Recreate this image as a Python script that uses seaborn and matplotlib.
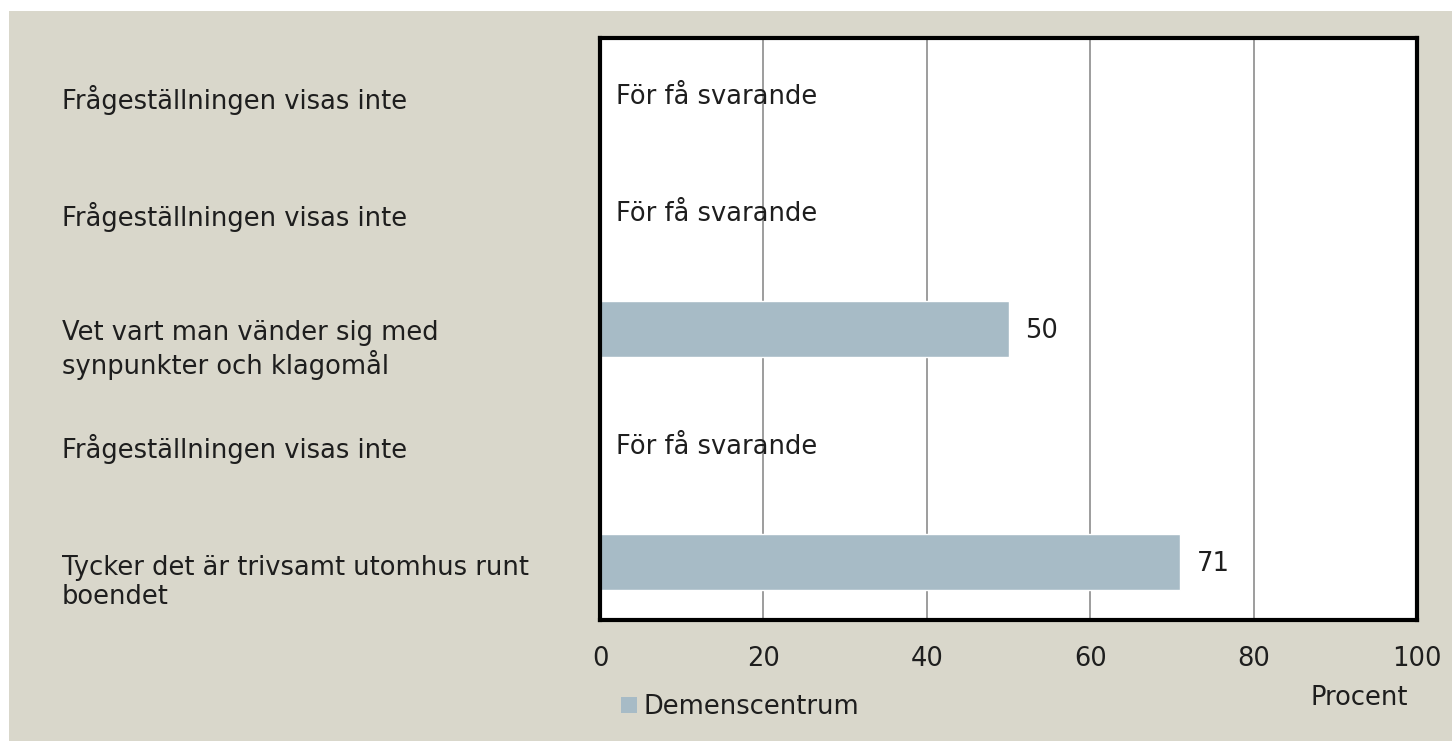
import numpy as np
import pandas as pd
import matplotlib
matplotlib.use("Agg")
import matplotlib.pyplot as plt
import matplotlib.transforms as mtransforms
from matplotlib.patches import Patch, Rectangle
import seaborn as sns

questions = [
    "Frågeställningen visas inte",
    "Frågeställningen visas inte",
    "Vet vart man vänder sig med\nsynpunkter och klagomål",
    "Frågeställningen visas inte",
    "Tycker det är trivsamt utomhus runt\nboendet",
]
values = [np.nan, np.nan, 50, np.nan, 71]
series_name = "Demenscentrum"
missing_text = "För få svarande"
xticks = [0, 20, 40, 60, 80, 100]

bg = "#d9d7cb"
bar_color = "#a7bbc6"
text_color = "#1e1e1e"
fs = 18.5

sns.set_style("white")
plt.rcParams["font.family"] = ["DejaVu Sans"]

keys = [f"q{i}" for i in range(len(questions))]
df = pd.DataFrame({"key": keys, "value": values})

fig = plt.figure(figsize=(14.52, 7.41), dpi=100, facecolor="white")
fig.patches.append(Rectangle((9 / 1452, 0), 1, 1 - 11 / 741, transform=fig.transFigure,
                             facecolor=bg, edgecolor="none", zorder=-10))
ax = fig.add_axes([600 / 1452, 1 - 620 / 741, 817 / 1452, 582 / 741])
ax.set_facecolor("white")

sns.barplot(data=df.dropna(), x="value", y="key", order=keys, orient="h",
            color=bar_color, saturation=1, width=0.48, ax=ax, zorder=3)

ax.set_xlim(0, 100)
ax.set_ylim(len(keys) - 0.5, -0.5)
ax.set_xticks(xticks)
ax.set_xticklabels([str(t) for t in xticks], fontsize=fs, color=text_color)
ax.tick_params(axis="x", length=0, pad=19)
ax.set_yticks([])
ax.set_ylabel("")
ax.set_xlabel("Procent", fontsize=fs, color=text_color, ha="right", va="center")
ax.xaxis.set_label_coords((1408 - 600) / 817, (620 - 698) / 582)

ax.grid(False)
for t in xticks[1:-1]:
    ax.axvline(t, color="#8c8c8c", lw=1.2, zorder=1)
for s in ax.spines.values():
    s.set_visible(True)
    s.set_color("black")
    s.set_linewidth(3)
    s.set_zorder(5)

# category labels, left aligned in the figure margin
trans = mtransforms.blended_transform_factory(fig.transFigure, ax.transData)
for i, (q, v) in enumerate(zip(questions, values)):
    nlines = q.count("\n") + 1
    y = i + 0.035 + 0.145 * (nlines - 1)
    ax.text(62 / 1452, y, q, transform=trans, ha="left", va="center",
            fontsize=fs, color=text_color, linespacing=1.17, clip_on=False)
    if np.isnan(v):
        ax.text(2, i + 0.01, missing_text, ha="left", va="center", fontsize=fs,
                color=text_color, zorder=4)
    else:
        ax.text(v + 2, i + 0.015, f"{v:.0f}", ha="left", va="center", fontsize=fs,
                color=text_color, zorder=4)

fig.legend(handles=[Patch(facecolor=bar_color, edgecolor="none", label=series_name)],
           loc="center left", bbox_to_anchor=(621 / 1452, 1 - 707 / 741),
           frameon=False, fontsize=fs, borderpad=0, borderaxespad=0,
           handlelength=0.62, handleheight=0.62, handletextpad=0.25,
           labelcolor=text_color)

fig.savefig("out.png", dpi=100, facecolor="white")
